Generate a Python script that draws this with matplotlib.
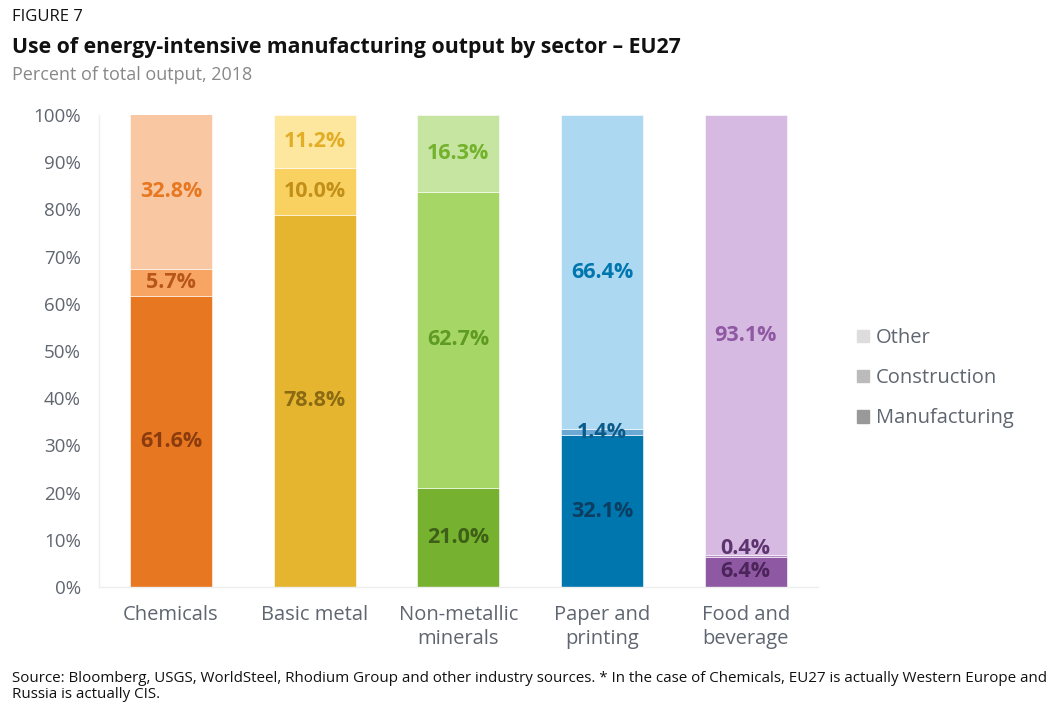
import matplotlib
matplotlib.use("Agg")
import matplotlib.pyplot as plt
import numpy as np

plt.rcParams['font.family'] = ['Open Sans', 'DejaVu Sans']

sectors = ["Chemicals", "Basic metal", "Non-metallic\nminerals", "Paper and\nprinting", "Food and\nbeverage"]
manufacturing = [61.6, 78.8, 21.0, 32.1, 6.4]
construction = [5.7, 10.0, 62.7, 1.4, 0.4]
other = [32.8, 11.2, 16.3, 66.4, 93.1]
series_names = ["Manufacturing", "Construction", "Other"]

# fill colours per sector: manufacturing, construction, other
fills = [
    ["#E87722", "#F8A462", "#F9C8A2"],
    ["#E6B530", "#F9D160", "#FDE69E"],
    ["#76B22F", "#A5D666", "#C5E5A0"],
    ["#0076AE", "#69A9D3", "#ADD8F1"],
    ["#8F58A3", "#B58BC7", "#D7BAE1"],
]
# value label colours per sector
label_cols = [
    ["#8A3C0E", "#B8561A", "#E87722"],
    ["#8A6A12", "#C28F18", "#E2AE27"],
    ["#3E5F17", "#5F9A22", "#74B22D"],
    ["#0B3E60", "#0B5B8A", "#0076AE"],
    ["#4B2459", "#5E3470", "#8F58A3"],
]
legend_grays = ["#999999", "#BBBBBB", "#DDDDDD"]

fig = plt.figure(figsize=(10.59, 7.14), dpi=100)
ax = fig.add_axes([0.0935, 0.178, 0.6785, 0.661])

x = np.arange(len(sectors))
width = 0.57
stacks = [manufacturing, construction, other]
bottom = np.zeros(len(sectors))
for k, vals in enumerate(stacks):
    vals = np.array(vals)
    cols = [fills[i][k] for i in range(len(sectors))]
    ax.bar(x, vals, width, bottom=bottom, color=cols, edgecolor='white', linewidth=0.4)
    for i, v in enumerate(vals):
        yc = bottom[i] + v / 2
        if v < 1:
            yc += 1.5  # tiny slice, nudge label up
        ax.text(x[i], yc, f"{v:.1f}%", ha='center', va='center', fontsize=15.5,
                fontweight='bold', color=label_cols[i][k])
    bottom += vals

ax.set_xlim(-0.5, len(sectors) - 0.5)
ax.set_ylim(0, 100)
ax.set_yticks(np.arange(0, 101, 10))
ax.set_yticklabels([f"{t}%" for t in range(0, 101, 10)])
ax.set_xticks(x)
ax.set_xticklabels(sectors, linespacing=1.3)
ax.tick_params(axis='y', length=0, labelsize=13.5, colors='#5F6670', pad=13)
ax.tick_params(axis='x', length=0, labelsize=14.5, colors='#5F6670', pad=13)
for s in ['top', 'right']:
    ax.spines[s].set_visible(False)
for s in ['left', 'bottom']:
    ax.spines[s].set_color('#EEEEEE')
    ax.spines[s].set_linewidth(1)

# legend
handles = [plt.Rectangle((0, 0), 1, 1, color=c) for c in legend_grays[::-1]]
leg = fig.legend(handles, series_names[::-1], loc='upper left', bbox_to_anchor=(0.7925, 0.566),
                 frameon=False, fontsize=14.5, handlelength=0.6, handleheight=0.6,
                 handletextpad=0.3, labelspacing=1.0)
for t in leg.get_texts():
    t.set_color('#5F6670')

fig.text(0.011, 0.987, "FIGURE 7", fontsize=12, color='#111111', va='top')
fig.text(0.011, 0.948, "Use of energy-intensive manufacturing output by sector \u2013 EU27",
         fontsize=15.3, fontweight='bold', color='#111111', va='top')
fig.text(0.011, 0.907, "Percent of total output, 2018", fontsize=13, color='#888888', va='top')
fig.text(0.011, 0.060, "Source: Bloomberg, USGS, WorldSteel, Rhodium Group and other industry sources. "
         "* In the case of Chemicals, EU27 is actually Western Europe and\nRussia is actually CIS.",
         fontsize=10.9, color='#111111', va='top', linespacing=1.1)

fig.savefig("out.png", dpi=100, facecolor='white')
